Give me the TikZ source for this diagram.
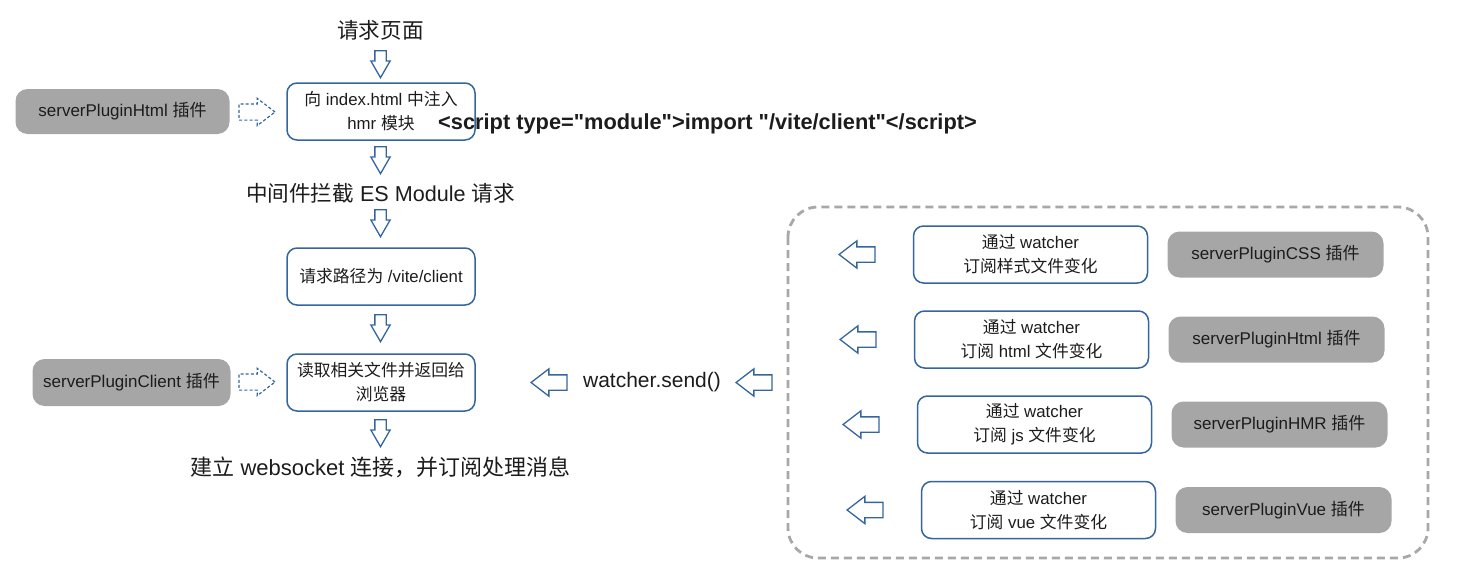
\documentclass[tikz,border=0pt]{standalone}
\usepackage{fontspec}
\setmainfont{Liberation Sans}
\newfontfamily\cjk{Noto Sans CJK SC}
\usetikzlibrary{shapes.arrows}

\definecolor{boxblue}{RGB}{52,101,158}
\definecolor{plugray}{RGB}{166,166,166}
\definecolor{framegray}{RGB}{168,168,168}
\definecolor{ink}{RGB}{28,28,28}

\begin{document}
\begin{tikzpicture}[x=1pt,y=-1pt,
  stepbox/.style={draw=boxblue,line width=1.5pt,rounded corners=10pt,minimum width=188pt,minimum height=57pt,
    inner sep=0pt,align=center,text=ink,font=\fontsize{16.8}{24}\selectfont},
  watchbox/.style={stepbox,minimum width=234pt},
  plugbox/.style={fill=plugray,rounded corners=12pt,minimum width=216pt,minimum height=46pt,
    inner sep=0pt,text=ink,font=\fontsize{17}{20}\selectfont},
  flowtext/.style={inner sep=0pt,text=ink,font=\fontsize{21.6}{26}\selectfont},
  downarrow/.style={single arrow,draw=boxblue,line width=1.3pt,rotate=-90,anchor=tip,inner xsep=0pt,inner ysep=5pt,
    single arrow head extend=4pt,single arrow tip angle=60,minimum height=27pt},
  backarrow/.style={single arrow,draw=boxblue,line width=1.3pt,rotate=180,anchor=tip,inner xsep=0pt,inner ysep=7pt,
    single arrow head extend=6pt,single arrow tip angle=75,minimum height=36pt},
  hintarrow/.style={single arrow,draw=boxblue,line width=1.2pt,dash pattern=on 3pt off 2.2pt,anchor=tip,inner xsep=0pt,inner ysep=7.5pt,
    single arrow head extend=5.5pt,single arrow tip angle=75,minimum height=36pt}]
\useasboundingbox (0,0) rectangle (1461,578);

% main column
\node[flowtext] (page) at (380.5,30) {\cjk 请求页面};
\node[downarrow] (a1) at (380.5,79) {};
\node[stepbox] (inject) at (381,111.5) {{\cjk 向} index.html {\cjk 中注入}\\hmr {\cjk 模块}};
\node[downarrow] (a2) at (380.5,175) {};
\node[flowtext] (intercept) at (380.5,193) {{\cjk 中间件拦截} ES Module {\cjk 请求}};
\node[downarrow] (a3) at (380.5,238) {};
\node[stepbox] (path) at (381,276.5) {{\cjk 请求路径为} /vite/client};
\node[downarrow] (a4) at (380.5,343) {};
\node[stepbox] (read) at (381,382.5) {{\cjk 读取相关文件并返回给}\\{\cjk 浏览器}};
\node[downarrow] (a5) at (380.5,448) {};
\node[flowtext,font=\fontsize{22}{26}\selectfont] (socket) at (380.5,467) {{\cjk 建立} websocket {\cjk 连接，并订阅处理消息}};

\node[anchor=west,inner sep=0pt,text=ink,font=\fontsize{21.8}{26}\selectfont\bfseries] (script) at (438,124)
  {<script type=\textquotedbl module\textquotedbl>import \textquotedbl/vite/client\textquotedbl</script>};

% plugins on the left
\node[plugbox,minimum width=214pt,minimum height=45pt] (htmlplug) at (122.5,111.5) {serverPluginHtml {\cjk 插件}};
\node[hintarrow] (h1) at (276,112) {};
\node[plugbox,minimum width=198pt,minimum height=47pt] (clientplug) at (131.5,382.5) {serverPluginClient {\cjk 插件}};
\node[hintarrow] (h2) at (276,382) {};

% watcher
\node[backarrow] (b1) at (530,382.5) {};
\node[flowtext,font=\fontsize{21}{24}\selectfont] (send) at (652,382) {watcher.send()};
\node[backarrow] (b2) at (735,382.5) {};

\draw[framegray,line width=2.8pt,dash pattern=on 8pt off 5pt,rounded corners=30pt] (788,207) rectangle (1428,558);
\foreach \n/\y/\dx/\kind/\plug in {1/254.5/0/\cjk 样式/CSS,2/339.5/1/~html~/Html,3/424.5/4/~js~/HMR,4/510/8/~vue~/Vue}
  {\node[watchbox] (watch\n) at (1030.5+\dx,\y) {{\cjk 通过} watcher\\{\cjk 订阅}\kind{\cjk 文件变化}};
   \node[plugbox] (plug\n) at (1275.5+\dx,\y) {serverPlugin\plug~{\cjk 插件}};
   \node[backarrow] (back\n) at (838+\dx,\y) {};}
\end{tikzpicture}
\end{document}
